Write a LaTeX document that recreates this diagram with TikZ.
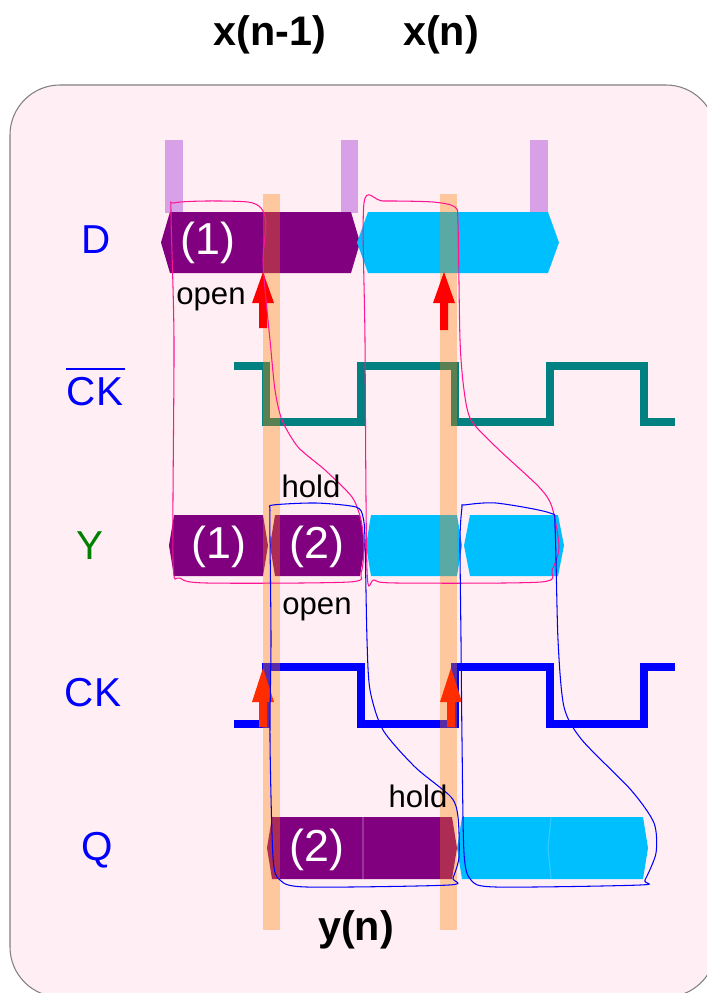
\documentclass[tikz,border=0pt]{standalone}
\usepackage{fontspec}
\setmainfont{Liberation Sans}
\definecolor{bgpink}{RGB}{255,238,243}
\definecolor{dpurple}{RGB}{128,0,128}
\definecolor{dcyan}{RGB}{0,191,255}
\definecolor{lav}{RGB}{216,160,230}
\definecolor{tealw}{RGB}{0,128,128}
\definecolor{peach}{RGB}{255,128,0}
\definecolor{curvepink}{RGB}{255,20,147}
\definecolor{ckred}{RGB}{255,45,0}
\definecolor{ygreen}{RGB}{0,128,0}
\newcommand{\mysegment}[6]{\fill[#1] ({#2+#6},#4) -- ({#3-#6},#4) -- (#3,{(#4+#5)/2}) -- ({#3-#6},#5) -- ({#2+#6},#5) -- (#2,{(#4+#5)/2}) -- cycle;}
\newcommand{\myuparrow}[5]{\fill[#1] (#2,#3) -- ({#2+11},#4) -- ({#2+4},#4) -- ({#2+4},#5) -- ({#2-4},#5) -- ({#2-4},#4) -- ({#2-11},#4) -- cycle;}
\tikzset{
  lbl/.style={font=\fontsize{23}{27}\selectfont, text=blue, inner sep=0pt},
  segtxt/.style={font=\fontsize{25.5}{30}\selectfont, text=white, inner sep=0pt},
  note/.style={font=\fontsize{17.7}{21}\selectfont, text=black, inner sep=0pt},
  ttl/.style={font=\bfseries\fontsize{23.5}{28}\selectfont, text=black, inner sep=0pt},
  wave/.style={line width=4pt, line join=miter},
  obar/.style={fill=peach, opacity=0.35},
  lbar/.style={fill=lav},
  seam/.style={white, opacity=0.2, line width=0.6pt}
}
\begin{document}
\begin{tikzpicture}[x=0.02cm, y=-0.02cm]
\useasboundingbox (0,0) rectangle (707,993);
\clip (0,0) rectangle (707,993);
% background panel
\filldraw[fill=bgpink, draw=gray, line width=0.6pt, rounded corners=1cm] (10,85) rectangle (716,997);
% lavender bars
\fill[lbar] (165,140) rectangle (183,213);
\fill[lbar] (341,140) rectangle (358,213);
\fill[lbar] (530,140) rectangle (548,213);
% D row
\mysegment{dpurple}{161}{360}{212}{273}{9}
\mysegment{dcyan}{357}{559}{212}{273}{11}
% Y row
\mysegment{dpurple}{169}{268}{515}{576}{5}
\mysegment{dpurple}{270}{365}{515}{576}{5}
\mysegment{dcyan}{366}{462}{515}{576}{5}
\mysegment{dcyan}{464}{564}{515}{576}{6}
% Q row
\mysegment{dpurple}{267}{457}{817}{879}{5}
\mysegment{dcyan}{457}{648}{817}{879}{5}
\draw[seam] (363,817) -- (363,879);
\draw[seam] (551,817) -- (548,848) -- (551,879);
% clock waves
\draw[tealw, wave] (234,366) -- (266,366) -- (266,422) -- (361,422) -- (361,366) -- (455,366) -- (455,422) -- (550,422) -- (550,366) -- (644,366) -- (644,422) -- (675,422);
\draw[blue, wave] (234,724) -- (266,724) -- (266,667) -- (361,667) -- (361,724) -- (455,724) -- (455,667) -- (550,667) -- (550,724) -- (644,724) -- (644,667) -- (675,667);
% orange bars
\fill[obar] (263,194) rectangle (280,930);
\fill[obar] (440,194) rectangle (457,930);
% red arrows
\myuparrow{red}{263}{272}{303}{328}
\myuparrow{red}{444}{272}{303}{330}
\myuparrow{ckred}{263}{668}{702}{727}
\myuparrow{ckred}{451}{668}{702}{727}
% freehand loops
\draw[curvepink, line width=0.6pt] plot[smooth cycle, tension=0.45] coordinates {(174,203) (207,201) (248,202) (261,208) (266,223) (263,260) (266,300) (270,340) (275,390) (282,420) (298,447) (325,470) (352,497) (361,520) (364,547) (361,573) (349,582) (207,583) (180,578) (173,560) (174,340) (171,213)};
\draw[curvepink, line width=0.6pt] plot[smooth cycle, tension=0.45] coordinates {(364,203) (383,201) (433,202) (455,207) (458,223) (460,340) (464,390) (471,420) (496,447) (539,487) (552,507) (559,547) (552,570) (541,582) (397,583) (374,580) (367,570) (365,340)};
\draw[blue, line width=0.6pt] plot[smooth cycle, tension=0.45] coordinates {(273,505) (316,503) (356,507) (363,517) (365,540) (367,640) (370,690) (383,730) (415,767) (451,797) (458,817) (459,857) (453,878) (449,885) (307,887) (280,880) (273,857) (270,740) (271,640) (270,540) (270,510)};
\draw[blue, line width=0.6pt] plot[smooth cycle, tension=0.45] coordinates {(464,505) (496,503) (550,513) (555,527) (558,640) (564,707) (582,740) (631,790) (654,823) (656,853) (645,880) (640,885) (496,887) (471,880) (464,853) (462,740) (461,640) (460,540) (462,507)};
% titles
\node[ttl] (t1) at (270,35) {x(n-1)};
\node[ttl] (t2) at (441,35) {x(n)};
\node[ttl] (t3) at (356,930) {y(n)};
% row labels
\node[lbl] (lD) at (96,240) {D};
\node[lbl] (lCKb) at (95,392) {CK};
\draw[blue, line width=1.4pt] (66,369) -- (125,369);
\node[lbl, text=ygreen] (lY) at (90,546) {Y};
\node[lbl] (lCK) at (93,693) {CK};
\node[lbl] (lQ) at (97,850) {Q};
% segment texts
\node[segtxt] (d1) at (208,243) {(1)};
\node[segtxt] (y1) at (219,547) {(1)};
\node[segtxt] (y2) at (317,547) {(2)};
\node[segtxt] (q2) at (317,850) {(2)};
% notes
\node[note] (n1) at (211,299) {open};
\node[note] (n2) at (311,486) {hold};
\node[note] (n3) at (317,609) {open};
\node[note] (n4) at (418,796) {hold};
\end{tikzpicture}
\end{document}
